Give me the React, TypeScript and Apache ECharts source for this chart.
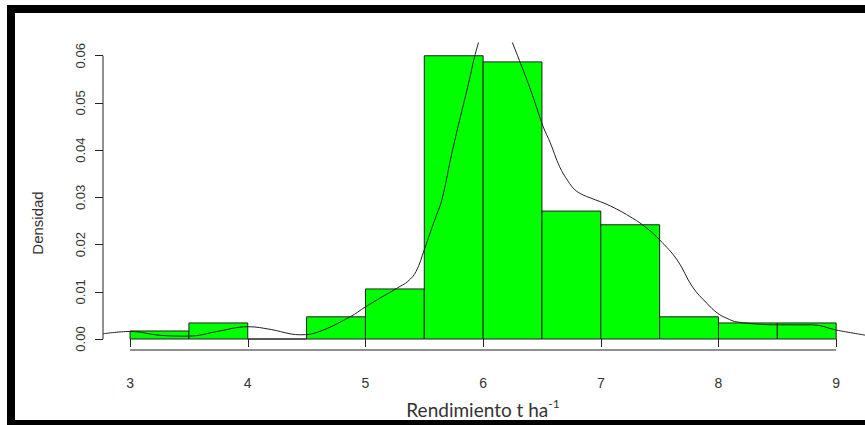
import React, { useEffect, useRef } from "react";
import * as echarts from "echarts";

// Histogram bins: [start, end, density]
const binStarts = [3, 3.5, 4, 4.5, 5, 5.5, 6, 6.5, 7, 7.5, 8, 8.5];
const binEnds = [3.5, 4, 4.5, 5, 5.5, 6, 6.5, 7, 7.5, 8, 8.5, 9];
const densities = [0.0017, 0.0034, 0, 0.0047, 0.0106, 0.06, 0.0587, 0.0271, 0.0242, 0.0047, 0.0034, 0.0034];

// Kernel density curve
const curveX = [2.77, 3.0, 3.25, 3.5, 3.74, 4.0, 4.2, 4.36, 4.45, 4.6, 4.87, 5.0, 5.14, 5.27, 5.36, 5.43, 5.5, 5.55, 5.6, 5.65, 5.74, 5.87, 5.96, 6.1, 6.25, 6.4, 6.51, 6.57, 6.65, 6.72, 6.78, 6.85, 6.91, 7.08, 7.27, 7.39, 7.5, 7.65, 7.78, 7.9, 7.99, 8.07, 8.16, 8.52, 8.8, 9.0, 9.25];
const curveY = [0.0011, 0.0016, 0.0008, 0.0006, 0.0016, 0.0026, 0.002, 0.0011, 0.0009, 0.0015, 0.0047, 0.0068, 0.0089, 0.0108, 0.0122, 0.0143, 0.0189, 0.0225, 0.026, 0.0295, 0.04, 0.0535, 0.0627, 0.072, 0.0627, 0.053, 0.045, 0.0416, 0.0365, 0.0335, 0.0316, 0.0305, 0.0299, 0.0282, 0.0256, 0.0235, 0.021, 0.0167, 0.011, 0.0076, 0.0055, 0.0044, 0.0036, 0.003, 0.003, 0.0019, 0.0008];

const xTicks = [3, 4, 5, 6, 7, 8, 9];
const yTicks = [0, 0.01, 0.02, 0.03, 0.04, 0.05, 0.06];
const yTickLabels = ["0.00", "0.01", "0.02", "0.03", "0.04", "0.05", "0.06"];

const yTitle = "Densidad";
const xTitleMain = "Rendimiento t ha";
const xTitleSup = "-1";

const XMIN = 2.77;
const XMAX = 9.245;
const YMIN = -0.00233;
const YMAX = 0.0627;

export default function App() {
  const ref = useRef<HTMLDivElement>(null);
  useEffect(() => {
    document.body.style.margin = "0";
    const chart = echarts.init(ref.current!, null, { renderer: "svg" });
    const lineColor = "#222";
    const option: any = {
      animation: false,
      backgroundColor: "#fff",
      grid: { left: 103, top: 43, width: 762, height: 307, containLabel: false },
      xAxis: {
        type: "value",
        min: XMIN,
        max: XMAX,
        axisLine: { show: false },
        splitLine: { show: false },
        axisTick: { show: true, customValues: xTicks, length: 8, lineStyle: { color: lineColor, width: 1 } },
        axisLabel: {
          customValues: xTicks,
          margin: 26,
          fontFamily: "Liberation Sans",
          fontSize: 14,
          color: "#333",
          formatter: (v: number) => String(Math.round(v)),
        },
      },
      yAxis: {
        type: "value",
        min: YMIN,
        max: YMAX,
        axisLine: { show: false },
        splitLine: { show: false },
        axisTick: { show: true, customValues: yTicks, length: 8, lineStyle: { color: lineColor, width: 1 } },
        axisLabel: {
          customValues: yTicks,
          rotate: 90,
          margin: 16,
          fontFamily: "Liberation Sans",
          fontSize: 13,
          color: "#333",
          formatter: (v: number) => {
            const i = yTicks.findIndex((t) => Math.abs(t - v) < 1e-9);
            return i >= 0 ? yTickLabels[i] : "";
          },
        },
      },
      graphic: [
        { type: "rect", shape: { x: 7, y: 5, width: 858, height: 8 }, style: { fill: "#000" }, z: 100 },
        { type: "rect", shape: { x: 7, y: 5, width: 8, height: 420 }, style: { fill: "#000" }, z: 100 },
        { type: "rect", shape: { x: 7, y: 420, width: 858, height: 5 }, style: { fill: "#000" }, z: 100 },
        {
          type: "text",
          x: 37,
          y: 223,
          rotation: Math.PI / 2,
          style: {
            text: yTitle,
            align: "center",
            verticalAlign: "middle",
            fontFamily: "Liberation Sans",
            fontSize: 15,
            fill: "#333",
          },
        },
        {
          type: "text",
          x: 483,
          y: 408,
          style: {
            text: "{a|" + xTitleMain + "}{b|" + xTitleSup + "}",
            align: "center",
            verticalAlign: "middle",
            rich: {
              a: { fontFamily: "Lato", fontSize: 19, fill: "#333", lineHeight: 22, verticalAlign: "bottom" },
              b: { fontFamily: "Lato", fontSize: 12, fill: "#333", lineHeight: 12, verticalAlign: "top" },
            },
          },
        },
      ],
      series: [
        {
          type: "custom",
          data: binStarts.map((s, i) => [s, binEnds[i], densities[i]]),
          encode: { x: [0, 1], y: 2 },
          renderItem: (params: any, api: any) => {
            const x0 = api.value(0);
            const x1 = api.value(1);
            const h = api.value(2);
            const p0 = api.coord([x0, 0]);
            const p1 = api.coord([x1, h]);
            return {
              type: "rect",
              shape: { x: p0[0], y: p1[1], width: p1[0] - p0[0], height: p0[1] - p1[1] },
              style: { fill: "#00ff00", stroke: lineColor, lineWidth: 1 },
            };
          },
          z: 2,
        },
        {
          type: "line",
          data: curveX.map((x, i) => [x, curveY[i]]),
          smooth: 0.4,
          symbol: "none",
          lineStyle: { color: "#222", width: 1 },
          z: 3,
        },
        {
          type: "line",
          data: [[3, YMIN], [9, YMIN]],
          symbol: "none",
          clip: false,
          lineStyle: { color: lineColor, width: 1 },
          z: 4,
        },
        {
          type: "line",
          data: [[XMIN, 0], [XMIN, 0.06]],
          symbol: "none",
          clip: false,
          lineStyle: { color: lineColor, width: 1 },
          z: 4,
        },
      ],
    };
    chart.setOption(option);
    return () => chart.dispose();
  }, []);
  return <div ref={ref} style={{ width: 865, height: 425 }} />;
}
